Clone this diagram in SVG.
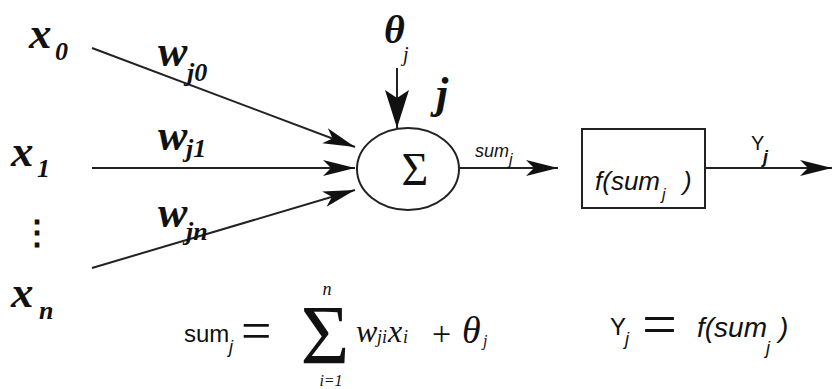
<svg xmlns="http://www.w3.org/2000/svg" width="833" height="389" viewBox="0 0 833 389">
<defs>
<marker id="ah" markerUnits="userSpaceOnUse" markerWidth="40" markerHeight="24" refX="34" refY="12" orient="auto" viewBox="0 0 40 24">
<path d="M34,12 L2,4 L10,12 L2,20 Z" fill="#111"/>
</marker>
<marker id="ahBig" markerUnits="userSpaceOnUse" markerWidth="44" markerHeight="30" refX="40" refY="15" orient="auto" viewBox="0 0 44 30">
<path d="M40,15 L2,3 L10,15 L2,27 Z" fill="#111"/>
</marker>
<style>
.ln{stroke:#222;stroke-width:2;fill:none}
.bi{font-family:"Liberation Serif",serif;font-weight:bold;font-style:italic;fill:#111}
.si{font-family:"Liberation Serif",serif;font-style:italic;fill:#111}
.sr{font-family:"Liberation Serif",serif;fill:#111}
.ai{font-family:"Liberation Sans",Arial,sans-serif;font-style:italic;fill:#111}
.ar{font-family:"Liberation Sans",Arial,sans-serif;fill:#111}
</style>
</defs>
<rect width="833" height="389" fill="#fff"/>

<g id="connectors">
<line class="ln" x1="92" y1="48" x2="355" y2="147" marker-end="url(#ah)"/>
<line class="ln" x1="92" y1="168" x2="355" y2="168" marker-end="url(#ah)"/>
<line class="ln" x1="92" y1="268" x2="355" y2="190" marker-end="url(#ah)"/>
<line class="ln" x1="397" y1="68" x2="397" y2="128" marker-end="url(#ahBig)"/>
<line class="ln" x1="459" y1="168" x2="558" y2="168" marker-end="url(#ah)"/>
<line class="ln" x1="705" y1="168" x2="832" y2="168" marker-end="url(#ah)"/>
</g>

<g id="x0"><text class="bi" x="29" y="48" font-size="45">x</text><text class="bi" x="55" y="60" font-size="26">0</text></g>
<g id="x1"><text class="bi" x="11" y="166" font-size="45">x</text><text class="bi" x="37" y="177" font-size="26">1</text></g>
<g id="dots"><text class="sr" x="37" y="244" font-size="34" font-weight="bold" text-anchor="middle" style="font-family:'DejaVu Serif',serif">⋮</text></g>
<g id="xn"><text class="bi" x="11" y="307" font-size="45">x</text><text class="bi" x="39" y="319" font-size="26">n</text></g>

<g id="wj0"><text class="bi" x="158" y="66" font-size="44">w</text><text class="bi" x="187" y="81" font-size="26">j0</text></g>
<g id="wj1"><text class="bi" x="158" y="150" font-size="44">w</text><text class="bi" x="186" y="157" font-size="26">j1</text></g>
<g id="wjn"><text class="bi" x="158" y="227" font-size="44">w</text><text class="bi" x="186" y="240" font-size="26">jn</text></g>

<g id="theta"><text class="si" x="384" y="43" font-size="40" font-weight="bold">θ</text><text class="si" x="403" y="61" font-size="20">j</text></g>
<g id="jlabel"><text class="bi" x="436" y="108" font-size="44">j</text></g>

<g id="sum-node">
<ellipse cx="408" cy="169" rx="51" ry="41" fill="#fff" stroke="#222" stroke-width="2"/>
<text class="sr" x="415" y="185" font-size="46" text-anchor="middle">Σ</text>
</g>
<g id="sumlabel"><text class="ai" x="475" y="157" font-size="18">sum</text><text class="ai" x="509" y="165" font-size="16">j</text></g>

<g id="f-node">
<rect x="582" y="129" width="123" height="79" fill="#fff" stroke="#222" stroke-width="2"/>
<text class="ai" x="595" y="190" font-size="26">f(sum</text><text class="ai" x="662" y="200" font-size="16">j</text><text class="ai" x="683" y="190" font-size="26">)</text>
</g>
<g id="ylabel"><text class="ar" x="751" y="150" font-size="20">Y</text><text class="ai" x="763" y="163" font-size="18" font-weight="bold">j</text></g>

<g id="formula1">
<text class="ar" x="184" y="342" font-size="24">sum</text>
<text class="ai" x="229" y="353" font-size="18">j</text>
<text class="sr" x="241" y="349" font-size="54">=</text>
<text class="sr" x="325" y="364" font-size="84" text-anchor="middle">Σ</text>
<text class="si" x="327" y="295" font-size="18" text-anchor="middle">n</text>
<text class="si" x="331" y="386" font-size="16" text-anchor="middle">i=1</text>
<text class="si" x="356" y="342" font-size="32">w</text>
<text class="si" x="377" y="343" font-size="18">ji</text>
<text class="si" x="388" y="342" font-size="32">x</text>
<text class="si" x="403" y="343" font-size="18">i</text>
<text class="sr" x="432" y="345" font-size="34">+</text>
<text class="si" x="462" y="343" font-size="38">θ</text>
<text class="si" x="483" y="346" font-size="16">j</text>
</g>

<g id="formula2">
<text class="ar" x="610" y="335" font-size="24">Y</text>
<text class="ai" x="625" y="345" font-size="18">j</text>
<text class="sr" x="642" y="345" font-size="62">=</text>
<text class="ai" x="697" y="337" font-size="28">f(sum</text>
<text class="ai" x="766" y="354" font-size="18">j</text>
<text class="ai" x="779" y="337" font-size="28">)</text>
</g>
</svg>
